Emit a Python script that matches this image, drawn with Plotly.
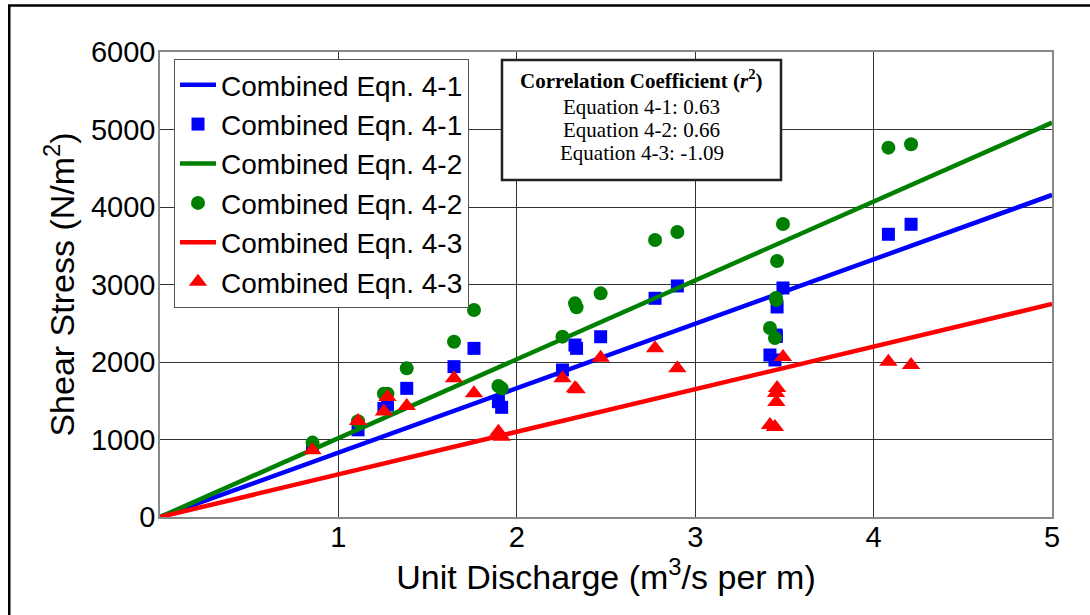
import plotly.graph_objects as go

# Unit discharge for each test (m^3/s per m)
discharge = [0.855, 1.11, 1.255, 1.275, 1.383, 1.648, 1.76, 1.897, 1.915,
             2.256, 2.326, 2.335, 2.47, 2.775, 2.90,
             3.492, 3.459, 3.453, 3.455, 3.419, 3.447,
             4.083, 4.21]

# Shear stress computed with each combined equation (N/m^2)
stress_eq41 = [900, 1125, 1400, 1445, 1660, 1940, 2176, 1488, 1415,
               1897, 2219, 2176, 2326, 2822, 2981,
               2955, 2710, 2348, 2330, 2090, 2026,
               3648, 3777]
stress_eq42 = [960, 1235, 1590, 1590, 1918, 2262, 2671, 1690, 1660,
               2327, 2757, 2706, 2886, 3574, 3677,
               3781, 3303, 2826, 2800, 2439, 2310,
               4766, 4809]
stress_eq43 = [860, 1240, 1360, 1550, 1432, 1790, 1596, 1101, 1036,
               1790, 1660, 1650, 2055, 2177, 1918,
               2065, 1665, 1600, 1484, 1187, 1161,
               2004, 1961]

# Fitted lines through the origin
line_x = [0, 5]
line_eq41 = [0, 4155]
line_eq42 = [0, 5088]
line_eq43 = [0, 2748]

# Correlation coefficients
r2_labels = ["Equation 4-1: 0.63", "Equation 4-2: 0.66", "Equation 4-3: -1.09"]

x_ticks = [1, 2, 3, 4, 5]
y_ticks = [0, 1000, 2000, 3000, 4000, 5000, 6000]

SANS = "Liberation Sans, Arial, sans-serif"
SERIF = "Liberation Serif, Times New Roman, serif"
name = "Combined Eqn. "

fig = go.Figure()
series = [
    (line_eq41, stress_eq41, "#0000FF", "square", 13, "4-1"),
    (line_eq42, stress_eq42, "#008000", "circle", 14, "4-2"),
    (line_eq43, stress_eq43, "#FF0000", "triangle-up", 16, "4-3"),
]
for line_y, pts, color, symbol, size, tag in series:
    fig.add_trace(go.Scatter(
        x=line_x, y=line_y, mode="lines", name=name + tag,
        line=dict(color=color, width=4.5)))
    fig.add_trace(go.Scatter(
        x=discharge, y=pts, mode="markers", name=name + tag,
        marker=dict(color=color, symbol=symbol, size=size, line=dict(width=0))))

# Correlation coefficient box
fig.add_shape(type="rect", xref="paper", yref="paper",
              x0=0.3834, x1=0.6962, y0=0.7247, y1=0.9828,
              line=dict(color="#222222", width=2.5), fillcolor="white", layer="above")
fig.add_annotation(xref="paper", yref="paper", x=0.5398, y=0.9419,
                   text="<b>Correlation Coefficient (<i>r</i><sup>2</sup>)</b>",
                   showarrow=False, xanchor="center", yanchor="middle",
                   font=dict(family=SERIF, size=21, color="black"))
for yy, txt in zip([0.8818, 0.8323, 0.7828], r2_labels):
    fig.add_annotation(xref="paper", yref="paper", x=0.5398, y=yy, text=txt,
                       showarrow=False, xanchor="center", yanchor="middle",
                       font=dict(family=SERIF, size=21, color="black"))

# Outer figure frame
fig.add_shape(type="rect", xref="paper", yref="paper",
              x0=-0.169, x1=1.2, y0=-0.3, y1=1.1,
              line=dict(color="black", width=2.5), fillcolor="rgba(0,0,0,0)",
              layer="above")

fig.update_layout(
    width=1090, height=615,
    margin=dict(l=160, r=38, t=52, b=98),
    paper_bgcolor="white", plot_bgcolor="white",
    font=dict(family=SANS, color="black"),
    showlegend=True,
    legend=dict(x=0.0157, y=0.985, xanchor="left", yanchor="top",
                bgcolor="white", bordercolor="#555555", borderwidth=1,
                font=dict(family=SANS, size=28, color="black"),
                tracegroupgap=0, itemwidth=36),
)
fig.update_xaxes(
    range=[0, 5], tickvals=x_ticks, ticks="",
    tickfont=dict(family=SANS, size=29, color="black"),
    ticklabelstandoff=-7,
    showgrid=True, gridcolor="#333333", gridwidth=1,
    showline=True, linecolor="#888888", linewidth=1.5, mirror=True,
    zeroline=False,
    title=dict(text="Unit Discharge (m<sup>3</sup>/s per m)",
               font=dict(family=SANS, size=34, color="black"), standoff=11),
)
fig.update_yaxes(
    range=[0, 6000], tickvals=y_ticks, ticks="",
    tickfont=dict(family=SANS, size=29, color="black"),
    ticklabelstandoff=-3,
    showgrid=True, gridcolor="#333333", gridwidth=1,
    showline=True, linecolor="#888888", linewidth=1.5, mirror=True,
    zeroline=False,
    title=dict(text="Shear Stress (N/m<sup>2</sup>)",
               font=dict(family=SANS, size=34, color="black"), standoff=6),
)

fig.write_html("out.html")
